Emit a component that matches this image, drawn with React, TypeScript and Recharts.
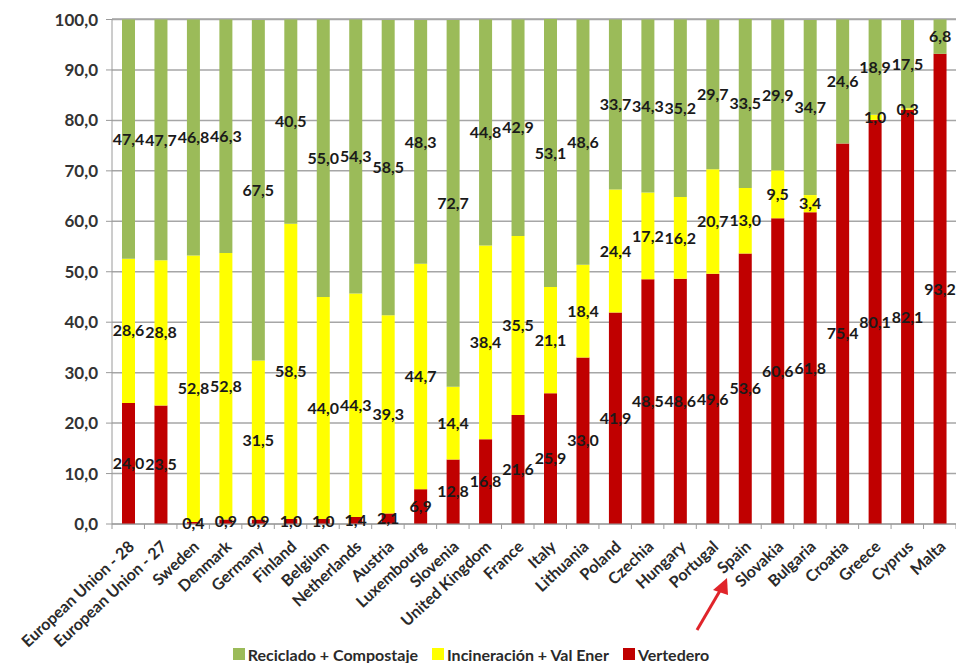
import { BarChart, Bar, XAxis, YAxis, CartesianGrid, LabelList, Legend } from 'recharts';

// Gestión de residuos municipales por país (% del total tratado)
const countries = [
  'European Union - 28', 'European Union - 27', 'Sweden', 'Denmark', 'Germany', 'Finland',
  'Belgium', 'Netherlands', 'Austria', 'Luxembourg', 'Slovenia', 'United Kingdom', 'France',
  'Italy', 'Lithuania', 'Poland', 'Czechia', 'Hungary', 'Portugal', 'Spain', 'Slovakia',
  'Bulgaria', 'Croatia', 'Greece', 'Cyprus', 'Malta',
];

const vertedero = [
  24.0, 23.5, 0.4, 0.9, 0.9, 1.0, 1.0, 1.4, 2.1, 6.9, 12.8, 16.8, 21.6,
  25.9, 33.0, 41.9, 48.5, 48.6, 49.6, 53.6, 60.6, 61.8, 75.4, 80.1, 82.1, 93.2,
];

const incineracion = [
  28.6, 28.8, 52.8, 52.8, 31.5, 58.5, 44.0, 44.3, 39.3, 44.7, 14.4, 38.4, 35.5,
  21.1, 18.4, 24.4, 17.2, 16.2, 20.7, 13.0, 9.5, 3.4, 0.0, 1.0, 0.3, 0.0,
];

const reciclado = [
  47.4, 47.7, 46.8, 46.3, 67.5, 40.5, 55.0, 54.3, 58.5, 48.3, 72.7, 44.8, 42.9,
  53.1, 48.6, 33.7, 34.3, 35.2, 29.7, 33.5, 29.9, 34.7, 24.6, 18.9, 17.5, 6.8,
];

const yTicks = [0, 10, 20, 30, 40, 50, 60, 70, 80, 90, 100];

const series = [
  { key: 'reciclado', name: 'Reciclado + Compostaje', color: '#9BBB59' },
  { key: 'incineracion', name: 'Incineración + Val Ener', color: '#FFFF00' },
  { key: 'vertedero', name: 'Vertedero', color: '#C00000' },
];

const data = countries.map((name, i) => ({
  name,
  vertedero: vertedero[i],
  incineracion: incineracion[i],
  reciclado: reciclado[i],
}));

const FONT = 'Lato, "Noto Sans", sans-serif';
const W = 956;
const H = 663;
const PLOT_LEFT = 112;
const PLOT_TOP = 19;
const PLOT_BOTTOM = 524;
const BAND = (W - PLOT_LEFT) / countries.length;

const fmt = (v: any) => Number(v).toFixed(1).replace('.', ',');

function CountryTick(props: any) {
  const { x, y, payload, index } = props;
  const half = BAND / 2;
  return (
    <g>
      <line x1={x - half} x2={x - half} y1={PLOT_BOTTOM} y2={PLOT_BOTTOM + 5} stroke="#9a9a9a" />
      {index === countries.length - 1 && (
        <line x1={x + half} x2={x + half} y1={PLOT_BOTTOM} y2={PLOT_BOTTOM + 5} stroke="#9a9a9a" />
      )}
      <text
        transform={`translate(${x + 7},${y + 24}) rotate(-43)`}
        textAnchor="end"
        fontFamily={FONT}
        fontSize={16}
        fontWeight={700}
        fill="#2a2a2a"
      >
        {payload.value}
      </text>
    </g>
  );
}

function LegendBox() {
  return (
    <div style={{ display: 'flex', justifyContent: 'center', height: 24, paddingTop: 3, alignItems: 'center', fontFamily: FONT, fontSize: 16, fontWeight: 700, color: '#2a2a2a' }}>
      {series.map((s) => (
        <span key={s.key} style={{ display: 'flex', alignItems: 'center', marginRight: 14 }}>
          <span style={{ width: 12, height: 12, background: s.color, marginRight: 3, display: 'inline-block' }} />
          {s.name}
        </span>
      ))}
    </div>
  );
}

export default function App() {
  return (
    <div style={{ position: 'absolute', left: 0, top: 0, width: W, height: H, background: '#fff' }}>
      <BarChart
        width={W}
        height={H}
        data={data}
        margin={{ top: PLOT_TOP, right: 0, left: 0, bottom: 0 }}
        barCategoryGap={0}
      >
        <CartesianGrid vertical={false} stroke="#a6a6a6" strokeWidth={1.5} />
        <XAxis
          dataKey="name"
          interval={0}
          height={115}
          tickSize={0}
          tickMargin={0}
          tick={<CountryTick />}
          axisLine={{ stroke: '#9a9a9a' }}
        />
        <YAxis
          domain={[0, 100]}
          ticks={yTicks}
          width={PLOT_LEFT}
          tickFormatter={fmt}
          tickSize={6}
          tickMargin={8}
          axisLine={{ stroke: '#9a9a9a' }}
          tickLine={{ stroke: '#9a9a9a' }}
          tick={{ fontFamily: FONT, fontSize: 17, fontWeight: 700, fill: '#333' }}
        />
        <Legend verticalAlign="bottom" height={24} content={<LegendBox />} />
        <Bar dataKey="vertedero" name="Vertedero" stackId="a" fill="#C00000" barSize={13} isAnimationActive={false}>
          <LabelList dataKey="vertedero" position="center" formatter={fmt} fill="#1a1a1a" fontFamily={FONT} fontSize={16} fontWeight={700} />
        </Bar>
        <Bar dataKey="incineracion" name="Incineración + Val Ener" stackId="a" fill="#FFFF00" barSize={13} isAnimationActive={false}>
          <LabelList dataKey="incineracion" position="center" formatter={fmt} fill="#1a1a1a" fontFamily={FONT} fontSize={16} fontWeight={700} />
        </Bar>
        <Bar dataKey="reciclado" name="Reciclado + Compostaje" stackId="a" fill="#9BBB59" barSize={13} isAnimationActive={false}>
          <LabelList dataKey="reciclado" position="center" formatter={fmt} fill="#1a1a1a" fontFamily={FONT} fontSize={16} fontWeight={700} />
        </Bar>
      </BarChart>
      {/* flecha que señala a España */}
      <svg width={W} height={H} style={{ position: 'absolute', left: 0, top: 0, pointerEvents: 'none' }}>
        <line x1={697} y1={630} x2={721} y2={589} stroke="#E0242A" strokeWidth={3} />
        <polygon points="727,578 713,590 728,595" fill="#E0242A" />
      </svg>
    </div>
  );
}
